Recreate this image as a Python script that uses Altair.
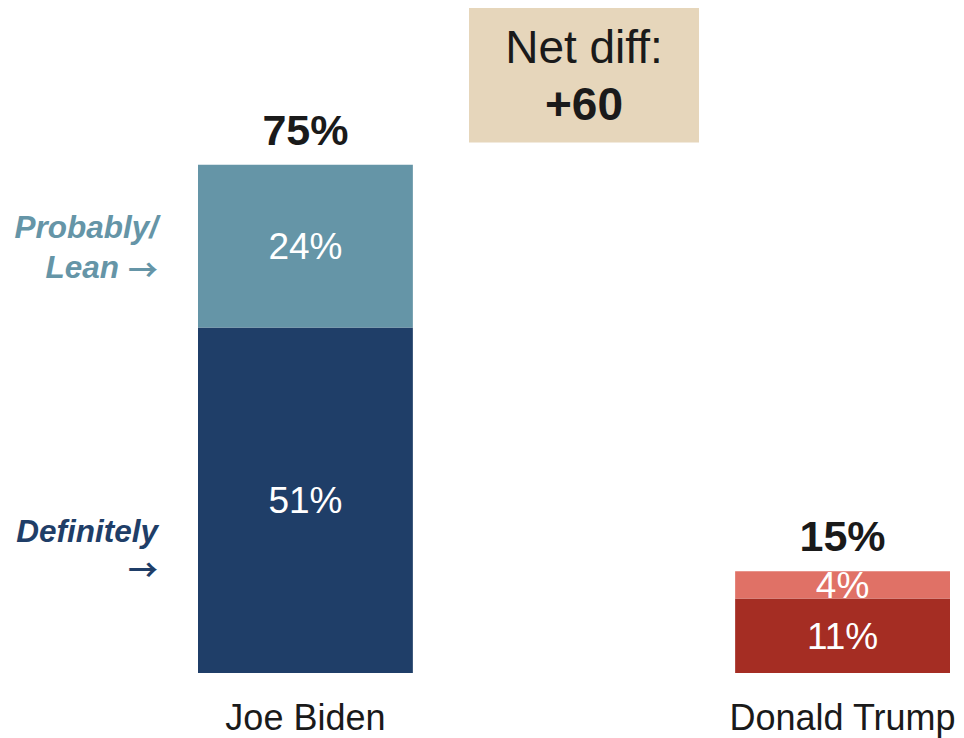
import altair as alt
import pandas as pd

candidates = ["Joe Biden", "Donald Trump"]
definitely = [51, 11]
probably = [24, 4]
totals = [75, 15]
net_diff_title = "Net diff:"
net_diff_value = "+60"
lean_lines = ["Probably/", "Lean"]
def_lines = ["Definitely"]
ARROW = "→"

FONT = "Arial"
NAVY, STEEL, DRED, SALMON = "#1f3e68", "#6595a7", "#a52d23", "#e07166"
colors = {
    ("Joe Biden", "Definitely"): NAVY,
    ("Joe Biden", "Probably"): STEEL,
    ("Donald Trump", "Definitely"): DRED,
    ("Donald Trump", "Probably"): SALMON,
}

rows = []
for c, d, p in zip(candidates, definitely, probably):
    rows.append(dict(cand=c, level="Definitely", v=d, y0=0, y1=d,
                     mid=d / 2, label=f"{d}%", color=colors[(c, "Definitely")]))
    rows.append(dict(cand=c, level="Probably", v=p, y0=d, y1=d + p,
                     mid=d + p / 2, label=f"{p}%", color=colors[(c, "Probably")]))
seg = pd.DataFrame(rows)
tot = pd.DataFrame(dict(cand=candidates, total=totals,
                        label=[f"{t}%" for t in totals]))

xscale = alt.Scale(domain=candidates, paddingInner=0.6, paddingOuter=0)
yscale = alt.Scale(domain=[0, 98], nice=False, zero=True)

x = alt.X("cand:N", scale=xscale, sort=candidates,
          axis=alt.Axis(title=None, labelAngle=0, labelFontSize=36, labelFont=FONT,
                        labelColor="#1a1a1a", domain=False, ticks=False,
                        labelPadding=28, labelLimit=0))

bars = alt.Chart(seg).mark_bar().encode(
    x=x,
    y=alt.Y("y0:Q", scale=yscale, axis=None),
    y2="y1:Q",
    color=alt.Color("color:N", scale=None),
)

seg_text = alt.Chart(seg).mark_text(font=FONT, fontSize=37, color="white",
                                    baseline="alphabetic", dy=13).encode(
    x=alt.X("cand:N", scale=xscale, sort=candidates),
    y=alt.Y("mid:Q", scale=yscale),
    text="label:N",
)

tot_text = alt.Chart(tot).mark_text(font=FONT, fontSize=43, fontWeight="bold",
                                    color="#1a1a1a", baseline="alphabetic",
                                    dy=-20).encode(
    x=alt.X("cand:N", scale=xscale, sort=candidates),
    y=alt.Y("total:Q", scale=yscale),
    text="label:N",
)

lean_mid = definitely[0] + probably[0] / 2
def_mid = definitely[0] / 2


def side_text(txt, yv, dy, xpx, color, font=FONT, size=31.5, style="italic"):
    df = pd.DataFrame(dict(y=[yv], t=[txt]))
    return alt.Chart(df).mark_text(font=font, fontSize=size, fontWeight="bold",
                                   fontStyle=style, color=color, align="right",
                                   baseline="alphabetic", dy=dy).encode(
        x=alt.value(xpx), y=alt.Y("y:Q", scale=yscale), text="t:N")


left = [
    side_text(lean_lines[0], lean_mid, -8, -40, STEEL),
    side_text(lean_lines[1], lean_mid, 32, -79, STEEL),
    side_text(ARROW, lean_mid, 35, -40, STEEL, font="Noto Sans CJK JP", size=30,
              style="normal"),
    side_text(def_lines[0], def_mid, 42, -40, NAVY),
    side_text(ARROW, def_mid, 81, -40, NAVY, font="Noto Sans CJK JP", size=30,
              style="normal"),
]

box_df = pd.DataFrame(dict(y0=[78.3], y1=[98.3]))
box = alt.Chart(box_df).mark_rect(color="#e6d6bb").encode(
    x=alt.value(271), x2=alt.value(501),
    y=alt.Y("y0:Q", scale=yscale), y2="y1:Q",
)
nd_df = pd.DataFrame(dict(t=[net_diff_title, net_diff_value],
                          y=[(673 - 63) / 6.773, (673 - 120) / 6.773]))
nd1 = alt.Chart(nd_df.iloc[[0]]).mark_text(font=FONT, fontSize=46, color="#1a1a1a",
                                           baseline="alphabetic").encode(
    x=alt.value(386), y=alt.Y("y:Q", scale=yscale), text="t:N")
nd2 = alt.Chart(nd_df.iloc[[1]]).mark_text(font=FONT, fontSize=46, fontWeight="bold",
                                           color="#1a1a1a", baseline="alphabetic").encode(
    x=alt.value(386), y=alt.Y("y:Q", scale=yscale), text="t:N")

chart = alt.layer(bars, seg_text, tot_text, *left, box, nd1, nd2).properties(
    width=752, height=664,
    autosize=alt.AutoSizeParams(type="none"),
    padding={"left": 190, "top": 1, "right": 6, "bottom": 66},
    background="white",
).configure_view(strokeWidth=0, stroke=None)

chart.save("out.html", embed_options={"renderer": "svg", "actions": False})
